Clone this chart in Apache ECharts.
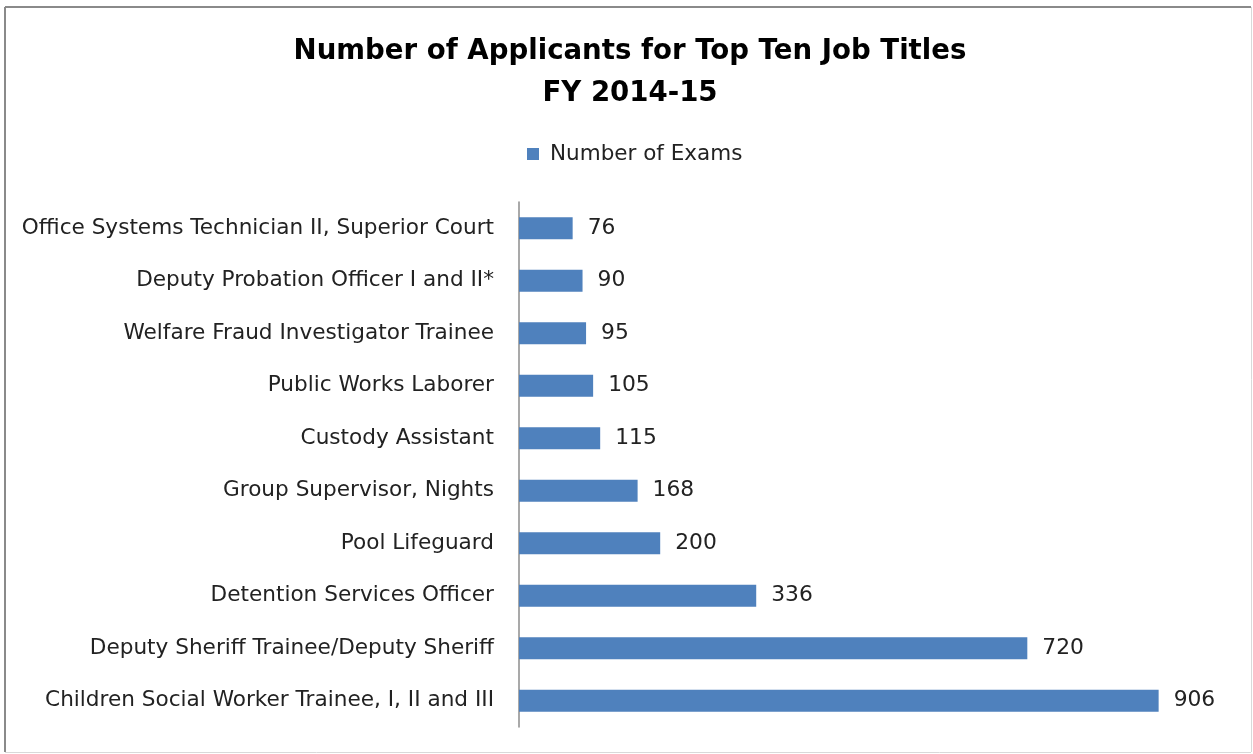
<!DOCTYPE html>
<html>
<head>
<meta charset="utf-8">
<script src="https://cdn.jsdelivr.net/npm/echarts@6/dist/echarts.min.js"></script>
<style>
  html, body { margin: 0; padding: 0; background: #fff; }
  #chart { width: 1253px; height: 754px; }
</style>
</head>
<body>
<div id="chart"></div>
<script>
// Job titles, listed top to bottom
const jobTitles = [
  'Office Systems Technician II, Superior Court',
  'Deputy Probation Officer I and II*',
  'Welfare Fraud Investigator Trainee',
  'Public Works Laborer',
  'Custody Assistant',
  'Group Supervisor, Nights',
  'Pool Lifeguard',
  'Detention Services Officer',
  'Deputy Sheriff Trainee/Deputy Sheriff',
  'Children Social Worker Trainee, I, II and III'
];
const examCounts = [76, 90, 95, 105, 115, 168, 200, 336, 720, 906];
const seriesName = 'Number of Exams';
const titleLines = ['Number of Applicants for Top Ten Job Titles', 'FY 2014-15'];

const FONT = '"DejaVu Sans", sans-serif';
const chart = echarts.init(document.getElementById('chart'), null, { renderer: 'canvas' });

chart.setOption({
  animation: false,
  backgroundColor: '#ffffff',
  title: {
    text: titleLines.join('\n'),
    left: 625,
    textAlign: 'center',
    top: 26,
    textStyle: {
      fontFamily: FONT,
      fontSize: 27.6,
      fontWeight: 'bold',
      color: '#000',
      lineHeight: 42
    }
  },
  legend: {
    data: [seriesName],
    left: 522,
    top: 138,
    icon: 'rect',
    itemWidth: 12,
    itemHeight: 12,
    itemGap: 8,
    textStyle: { fontFamily: FONT, fontSize: 21.5, color: '#222', padding: [0, 0, 0, 6] }
  },
  grid: { left: 519, top: 202, width: 706, height: 525, containLabel: false },
  xAxis: {
    type: 'value',
    min: 0,
    max: 1000,
    show: false
  },
  yAxis: {
    type: 'category',
    inverse: true,
    data: jobTitles,
    axisLine: { show: true, lineStyle: { color: '#8c8c8c', width: 1.5 } },
    axisTick: { show: false },
    axisLabel: { fontFamily: FONT, fontSize: 21.6, color: '#222', margin: 25 }
  },
  series: [{
    name: seriesName,
    type: 'bar',
    data: examCounts,
    barWidth: 22,
    itemStyle: { color: '#4F81BD' },
    label: {
      show: true,
      position: 'right',
      distance: 15,
      fontFamily: FONT,
      fontSize: 21.8,
      color: '#222'
    }
  }],
  graphic: [
    { type: 'line', shape: { x1: 5, y1: 7, x2: 5, y2: 752 }, style: { stroke: '#8a8a8a', lineWidth: 2 } },
    { type: 'line', shape: { x1: 5, y1: 7, x2: 1251, y2: 7 }, style: { stroke: '#8a8a8a', lineWidth: 2 } },
    { type: 'line', shape: { x1: 5, y1: 752.5, x2: 1251, y2: 752.5 }, style: { stroke: '#d9d9d9', lineWidth: 1 } },
    { type: 'line', shape: { x1: 1251.5, y1: 7, x2: 1251.5, y2: 752 }, style: { stroke: '#d9d9d9', lineWidth: 1 } }
  ]
});
</script>
</body>
</html>
